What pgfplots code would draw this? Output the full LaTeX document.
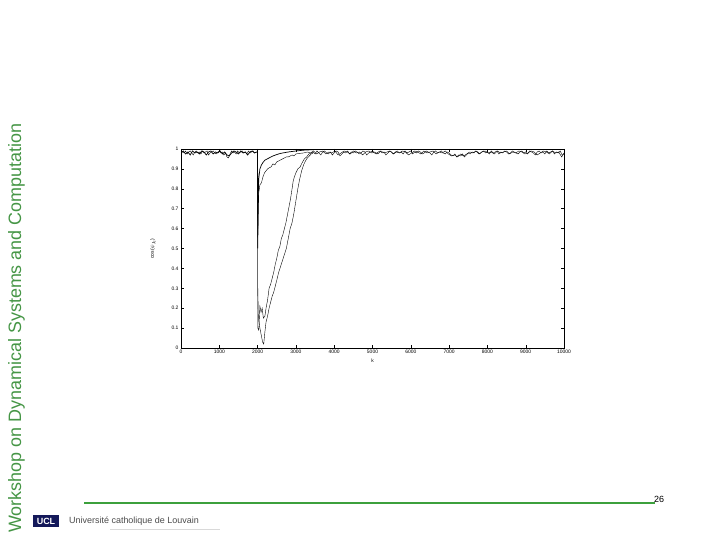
\documentclass[border=0pt]{standalone}
\usepackage{pgfplots}
\pgfplotsset{compat=1.18}
\usepackage{fontspec}
\setmainfont{Liberation Sans}
\definecolor{slidegreen}{RGB}{60,160,60}
\definecolor{textgreen}{RGB}{70,150,70}
\definecolor{uclnavy}{RGB}{20,25,90}
\begin{document}
\begin{tikzpicture}[x=1bp,y=1bp]
\useasboundingbox[fill=white] (0,0) rectangle (720,540);
% slide decorations
\node[rotate=90,anchor=base west,inner sep=0pt,text=textgreen,font=\fontsize{18}{20}\selectfont] at (21,7) {Workshop on Dynamical Systems and Computation};
\draw[slidegreen,line width=2bp] (84,37) -- (655,37);
\node[anchor=base west,inner sep=0pt,font=\fontsize{9}{10}\selectfont] at (654,37.5) {26};
\fill[uclnavy] (33,13) rectangle (59,24.5);
\node[text=white,inner sep=0pt,font=\bfseries\fontsize{9}{10}\selectfont] at (46,18.7) {UCL};
\node[anchor=west,inner sep=0pt,text=black!70,font=\fontsize{9}{10}\selectfont] at (69,18.5) {Université catholique de Louvain};
\draw[black!15,line width=0.4bp] (110,11) -- (220,11);
\begin{axis}[
  at={(181bp,192bp)}, anchor=south west,
  scale only axis, width=383bp, height=199bp,
  xmin=0, xmax=10000, ymin=0, ymax=1,
  xtick={0,1000,...,10000}, ytick={0,0.1,...,1.0},
  tick align=inside, major tick length=3bp,
  tick style={black, line width=0.4bp},
  axis line style={black, line width=0.5bp},
  ticklabel style={font=\fontsize{5}{6}\selectfont},
  /pgf/number format/assume math mode=true,
  xticklabel style={/pgf/number format/1000 sep={}, yshift=1bp},
  yticklabel style={/pgf/number format/fixed, /pgf/number format/precision=1, xshift=1bp},
  scaled ticks=false,
  xlabel={k}, xlabel style={font=\fontsize{5}{6}\selectfont, yshift=2bp},
  ylabel={cos($\psi_k$)}, ylabel style={font=\fontsize{5}{6}\selectfont, yshift=9bp},
  cycle list={{black, line width=0.7bp, mark=none}},
  clip=true,
]
% series 1: noisy, drop at 2000, slow recovery A, noise afterwards
\addplot coordinates {
(0,0.99)(40,0.985)(80,0.98)(120,0.99)(160,0.975)(200,0.985)(240,0.99)(280,0.98)(320,0.97)(360,0.985)
(400,0.99)(440,0.98)(480,0.985)(520,0.975)(560,0.99)(600,0.98)(640,0.985)(680,0.99)(720,0.97)(760,0.98)
(800,0.985)(840,0.99)(880,0.98)(920,0.975)(960,0.985)(1000,0.99)(1040,0.98)(1080,0.985)(1120,0.97)(1160,0.98)
(1200,0.96)(1240,0.955)(1280,0.975)(1320,0.99)(1360,0.98)(1400,0.985)(1440,0.975)(1480,0.99)(1520,0.98)(1560,0.985)
(1600,0.99)(1640,0.98)(1680,0.985)(1720,0.975)(1760,0.99)(1800,0.98)(1840,0.985)(1880,0.99)(1920,0.98)(1960,0.985)
(2000,0.985)(2005,0.1)(2030,0.09)(2060,0.21)(2090,0.18)(2120,0.2)(2150,0.15)(2190,0.16)(2220,0.2)(2260,0.24)
(2300,0.3)(2340,0.32)(2380,0.35)(2420,0.38)(2460,0.42)(2500,0.45)(2540,0.49)(2580,0.51)(2620,0.55)(2660,0.57)
(2700,0.6)(2740,0.63)(2780,0.67)(2820,0.71)(2860,0.75)(2900,0.8)(2930,0.84)(2960,0.86)(3000,0.88)(3050,0.9)
(3110,0.91)(3160,0.93)(3220,0.95)(3280,0.96)(3340,0.975)(3400,0.98)
(3450,0.985)(3500,0.975)(3550,0.99)(3600,0.98)(3650,0.97)(3700,0.985)(3750,0.99)(3800,0.98)(3850,0.975)(3900,0.985)
(3950,0.97)(4000,0.98)(4050,0.99)(4100,0.985)(4150,0.965)(4200,0.975)(4250,0.985)(4300,0.98)(4350,0.99)(4400,0.975)
(4450,0.985)(4500,0.98)(4550,0.99)(4600,0.985)(4650,0.975)(4700,0.98)(4750,0.99)(4800,0.985)(4850,0.97)(4900,0.98)
(4950,0.985)(5000,0.99)(5050,0.98)(5100,0.975)(5150,0.985)(5200,0.99)(5250,0.98)(5300,0.985)(5350,0.97)(5400,0.98)
(5450,0.99)(5500,0.985)(5550,0.975)(5600,0.985)(5650,0.99)(5700,0.98)(5750,0.985)(5800,0.975)(5850,0.99)(5900,0.98)
(5950,0.985)(6000,0.99)(6050,0.975)(6100,0.985)(6150,0.98)(6200,0.99)(6250,0.985)(6300,0.975)(6350,0.98)(6400,0.99)
(6450,0.985)(6500,0.98)(6550,0.97)(6600,0.985)(6650,0.99)(6700,0.98)(6750,0.985)(6800,0.99)(6850,0.98)(6900,0.975)
(6950,0.985)(7000,0.98)(7050,0.97)(7100,0.965)(7150,0.975)(7200,0.96)(7250,0.97)(7300,0.965)(7350,0.975)(7400,0.96)
(7450,0.97)(7500,0.98)(7550,0.975)(7600,0.985)(7650,0.98)(7700,0.99)(7750,0.985)(7800,0.975)(7850,0.985)(7900,0.99)
(7950,0.98)(8000,0.985)(8050,0.975)(8100,0.99)(8150,0.98)(8200,0.985)(8250,0.99)(8300,0.975)(8350,0.985)(8400,0.98)
(8450,0.99)(8500,0.985)(8550,0.975)(8600,0.98)(8650,0.99)(8700,0.985)(8750,0.98)(8800,0.975)(8850,0.985)(8900,0.99)
(8950,0.98)(9000,0.985)(9050,0.975)(9100,0.99)(9150,0.985)(9200,0.98)(9250,0.97)(9300,0.985)(9350,0.99)(9400,0.98)
(9450,0.985)(9500,0.975)(9550,0.99)(9600,0.98)(9650,0.985)(9700,0.99)(9750,0.975)(9800,0.985)(9850,0.98)(9900,0.99)
(9950,0.97)(10000,0.975)
};
% second pre-switch noisy trace
\addplot coordinates {
(0,0.98)(60,0.99)(120,0.975)(180,0.985)(240,0.97)(300,0.99)(360,0.98)(420,0.985)(480,0.975)(540,0.99)
(600,0.985)(660,0.97)(720,0.985)(780,0.99)(840,0.975)(900,0.985)(960,0.98)(1020,0.99)(1080,0.975)(1140,0.985)
(1200,0.97)(1260,0.965)(1320,0.98)(1380,0.99)(1440,0.985)(1500,0.975)(1560,0.99)(1620,0.98)(1680,0.985)(1740,0.97)
(1800,0.985)(1860,0.99)(1920,0.98)(1980,0.985)
};
% series 2: slow recovery B
\addplot coordinates {
(2000,0.985)(2005,0.3)(2020,0.15)(2060,0.1)(2100,0.06)(2130,0.03)(2160,0.02)(2190,0.08)(2220,0.13)(2260,0.16)
(2300,0.2)(2340,0.23)(2380,0.26)(2420,0.28)(2460,0.31)(2500,0.34)(2550,0.38)(2600,0.41)(2650,0.44)(2700,0.47)
(2750,0.5)(2800,0.55)(2850,0.6)(2900,0.63)(2950,0.68)(3000,0.74)(3050,0.8)(3100,0.85)(3150,0.89)(3200,0.92)
(3250,0.94)(3300,0.955)(3350,0.965)(3400,0.975)(3450,0.98)
};
% series 3: fast noisy recovery
\addplot coordinates {
(2000,0.985)(2010,0.6)(2030,0.78)(2060,0.82)(2100,0.83)(2140,0.86)(2180,0.88)(2220,0.89)(2260,0.9)(2300,0.905)
(2350,0.91)(2400,0.925)(2450,0.92)(2500,0.935)(2550,0.94)(2600,0.945)(2650,0.95)(2700,0.955)(2750,0.96)(2800,0.96)
(2850,0.965)(2900,0.97)(2950,0.965)(3000,0.975)(3100,0.978)(3200,0.98)(3300,0.985)
(3380,0.98)(3460,0.99)(3540,0.975)(3620,0.985)(3700,0.99)(3780,0.975)(3860,0.985)(3940,0.98)(4020,0.99)(4100,0.97)
(4180,0.98)(4260,0.99)(4340,0.985)(4420,0.975)(4500,0.99)(4580,0.98)(4660,0.985)(4740,0.97)(4820,0.985)(4900,0.99)
(4980,0.98)(5060,0.985)(5140,0.975)(5220,0.99)(5300,0.98)(5380,0.985)(5460,0.99)(5540,0.975)(5620,0.985)(5700,0.98)
(5780,0.99)(5860,0.985)(5940,0.97)(6020,0.98)(6100,0.99)(6180,0.985)(6260,0.975)(6340,0.99)(6420,0.98)(6500,0.985)
(6580,0.99)(6660,0.975)(6740,0.985)(6820,0.98)(6900,0.99)(6980,0.975)(7060,0.965)(7140,0.97)(7220,0.96)(7300,0.975)
(7380,0.965)(7460,0.975)(7540,0.985)(7620,0.98)(7700,0.99)(7780,0.975)(7860,0.985)(7940,0.99)(8020,0.98)(8100,0.985)
(8180,0.975)(8260,0.99)(8340,0.98)(8420,0.985)(8500,0.99)(8580,0.975)(8660,0.985)(8740,0.98)(8820,0.99)(8900,0.985)
(8980,0.975)(9060,0.98)(9140,0.99)(9220,0.985)(9300,0.97)(9380,0.98)(9460,0.99)(9540,0.985)(9620,0.975)(9700,0.99)
(9780,0.98)(9860,0.985)(9940,0.96)(10000,0.98)
};
% series 4: smooth fast recovery
\addplot coordinates {
(2000,0.99)(2005,0.5)(2015,0.75)(2030,0.85)(2060,0.9)(2100,0.92)(2150,0.935)(2200,0.945)(2300,0.955)(2400,0.965)
(2500,0.972)(2600,0.978)(2800,0.985)(3000,0.99)(3200,0.994)(3500,0.997)(4000,0.998)(10000,0.998)
};
\end{axis}
\end{tikzpicture}
\end{document}
